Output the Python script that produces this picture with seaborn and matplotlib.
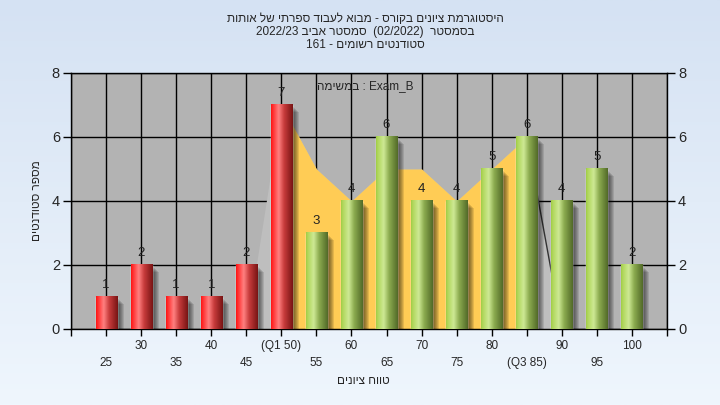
import re
import numpy as np
import matplotlib
matplotlib.use('Agg')
import matplotlib.pyplot as plt
import matplotlib.transforms as mtransforms
from matplotlib.patches import Rectangle
import seaborn as sns

# grade bins and number of students per bin
grades = [25, 30, 35, 40, 45, 50, 55, 60, 65, 70, 75, 80, 85, 90, 95, 100]
counts = [1, 2, 1, 1, 2, 7, 3, 4, 6, 4, 4, 5, 6, 4, 5, 2]
bar_group = ['fail'] * 6 + ['pass'] * 10

# "Exam_B" area series
area_x = [45, 50, 55, 60, 65, 70, 75, 80, 85, 90]
area_y = [0, 7, 5, 4, 5, 5, 4, 5, 6, 0]

upper_labels = ['30', '40', '(Q1 50)', '60', '70', '80', '90', '100']
lower_labels = ['25', '35', '45', '55', '65', '75', '(Q3 85)', '95']
y_ticks = [0, 2, 4, 6, 8]

title_lines = [
    'היסטוגרמת ציונים בקורס - מבוא לעבוד ספרתי של אותות',
    'בסמסטר  (02/2022)  סמסטר אביב 2022/23',
    'סטודנטים רשומים - 161',
]
series_label = 'Exam_B : במשימה'
x_title = 'טווח ציונים'
y_title = 'מספר סטודנטים'

sns.set_theme(style='white')
plt.rcParams['font.family'] = ['Liberation Sans', 'DejaVu Sans']


def visual(s):
    # matplotlib has no bidi support: lay the right-to-left text out by hand,
    # keeping runs of digits / latin letters in their own order
    r = s[::-1].translate(str.maketrans('()', ')('))
    return re.sub(r'[0-9A-Za-z][0-9A-Za-z_/.]*[0-9A-Za-z]|[0-9A-Za-z]',
                  lambda m: m.group(0)[::-1], r)


def cylinder(stops):
    pos = [0.0, 0.08, 0.35, 0.6, 1.0]
    t = np.linspace(0, 1, 64)
    rgb = np.array(stops) / 255.0
    return np.stack([np.interp(t, pos, rgb[:, i]) for i in range(3)], axis=1)


red_grad = cylinder([(255, 20, 20), (255, 45, 45), (255, 128, 128), (200, 60, 60), (120, 20, 20)])
green_grad = cylinder([(160, 205, 70), (176, 215, 92), (206, 233, 148), (140, 172, 80), (82, 106, 40)])

fig = plt.figure(figsize=(7.2, 4.05), dpi=100)

# light blue gradient background
bg = fig.add_axes([0, 0, 1, 1], zorder=-10)
top = np.array([213, 226, 243]) / 255.0
bot = np.array([239, 246, 253]) / 255.0
g = np.linspace(0, 1, 200)[:, None]
bg.imshow((top + (bot - top) * g)[:, None, :], aspect='auto', extent=[0, 1, 0, 1])
bg.axis('off')

ax = fig.add_axes([0.0986, 0.1877, 0.8278, 0.6321])
ax.set_facecolor('#b3b3b3')
ax.set_axisbelow(True)

# area series behind the bars
ax.fill_between(area_x, area_y, color='#bebebe', lw=0, zorder=1)
ax.fill_between(area_x[1:-1], area_y[1:-1], color='#ffcc55', lw=0, zorder=1.2)
ax.plot(area_x[-2:], area_y[-2:], color='#333333', lw=1, zorder=1.3)

sns.barplot(x=grades, y=counts, hue=bar_group,
            palette={'fail': '#e03030', 'pass': '#98c050'},
            native_scale=True, width=0.6, saturation=1, legend=False,
            ax=ax, zorder=3)

for p in list(ax.patches):
    x0, w, h = p.get_x(), p.get_width(), p.get_height()
    # soft drop shadow
    for d in [2, 3, 4, 5, 6, 7]:
        tr = mtransforms.offset_copy(ax.transData, fig=fig, x=d, y=-d, units='dots')
        ax.add_patch(Rectangle((x0, 0), w, h, transform=tr, color='black',
                               alpha=0.11, lw=0, zorder=2.5))
    grad = red_grad if x0 + w / 2 <= 50 else green_grad
    ax.imshow(grad[None, :, :], extent=[x0, x0 + w, 0, h], aspect='auto',
              interpolation='bilinear', zorder=3.1)

for c in ax.containers:
    ax.bar_label(c, padding=4, fontsize=9.5, color='#222222')

ax.set_xlim(grades[0] - 5, grades[-1] + 5)
ax.set_ylim(0, 8)

ax.set_xticks(grades[1::2])
ax.set_xticklabels(upper_labels)
ax.set_xticks([grades[0] - 5] + grades[0::2] + [grades[-1] + 5], minor=True)
ax.set_xticklabels([''] + lower_labels + [''], minor=True)
ax.tick_params(axis='x', which='major', length=5, width=1, pad=3, labelsize=8.5,
               color='black', bottom=True)
ax.tick_params(axis='x', which='minor', length=5, width=1, pad=15, labelsize=8.5,
               color='black', bottom=True)

ax.set_yticks(y_ticks)
ax.tick_params(axis='y', left=True, right=True, labelleft=True, labelright=True,
               length=6, width=1, labelsize=10.5, color='black', pad=2)

ax.grid(True, which='both', axis='x', color='black', lw=1)
ax.grid(True, which='major', axis='y', color='black', lw=1)
for s in ax.spines.values():
    s.set_color('black')
    s.set_linewidth(1)
ax.set_xlabel('')
ax.set_ylabel('')

for i, line in enumerate(title_lines):
    fig.text(0.507, 0.9531 - i * 0.032, visual(line), ha='center', va='center', fontsize=8.5)
fig.text(0.507, 0.7877, visual(series_label), ha='center', va='center', fontsize=8.5)
fig.text(0.504, 0.0593, visual(x_title), ha='center', va='center', fontsize=8.5)
fig.text(0.051, 0.5037, visual(y_title), ha='center', va='center', fontsize=8.5, rotation=90)

fig.savefig('out.png', dpi=100)
